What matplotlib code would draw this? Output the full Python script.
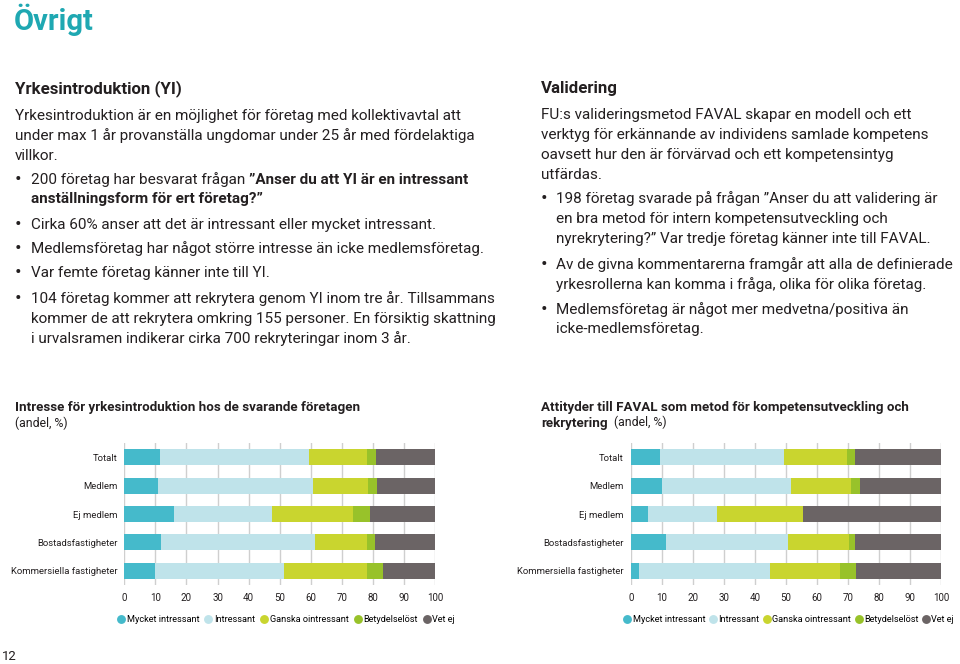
import numpy as np
import matplotlib
matplotlib.use("Agg")
import matplotlib.pyplot as plt
from matplotlib.lines import Line2D

plt.rcParams['font.family'] = ['Roboto', 'DejaVu Sans']

# ---------------- data ----------------
categories = ["Totalt", "Medlem", "Ej medlem", "Bostadsfastigheter", "Kommersiella fastigheter"]
series_names = ["Mycket intressant", "Intressant", "Ganska ointressant", "Betydelselöst", "Vet ej"]
series_colors = ["#45BACB", "#BFE3EA", "#C9D52F", "#98C22A", "#6B6465"]

# Chart 1: Intresse för yrkesintroduktion
yi_mycket = [11.4, 10.8, 15.9, 11.8, 9.9]
yi_intressant = [48.0, 49.8, 31.5, 49.7, 41.4]
yi_ganska = [18.6, 17.8, 26.3, 16.5, 26.9]
yi_betydelselost = [3.0, 2.9, 5.4, 2.6, 5.0]
yi_vetej = [19.0, 18.7, 20.9, 19.4, 16.8]

# Chart 2: Attityder till FAVAL
fa_mycket = [9.6, 10.1, 5.6, 11.4, 2.6]
fa_intressant = [39.8, 41.5, 22.2, 39.3, 42.4]
fa_ganska = [20.3, 19.5, 27.7, 19.5, 22.5]
fa_betydelselost = [2.6, 2.8, 0.0, 2.1, 5.1]
fa_vetej = [27.7, 26.1, 44.5, 27.7, 27.4]

xticks = [0, 10, 20, 30, 40, 50, 60, 70, 80, 90, 100]

TEXT = "#231F20"
TEAL = "#1FA8B2"

W, H = 960, 664
fig = plt.figure(figsize=(W / 100, H / 100), dpi=100)
fig.patch.set_facecolor("white")

bg = fig.add_axes([0, 0, 1, 1])
bg.set_xlim(0, W)
bg.set_ylim(H, 0)
bg.axis("off")


def put(x, y, s, size=10.9, weight="normal", color=TEXT, va="center"):
    return bg.text(x, y, s, fontsize=size, fontweight=weight, color=color,
                   ha="left", va=va)


def put_after(prev, s, size=10.9, weight="normal", color=TEXT):
    return bg.annotate(s, xy=(1, 0), xycoords=prev, ha="left", va="bottom",
                       fontsize=size, fontweight=weight, color=color,
                       annotation_clip=False)


# Title
put(14, 20, "Övrigt", size=21, weight="bold", color=TEAL)

BS = 11.0
HS = 12.2
# Left column
put(15, 89, "Yrkesintroduktion (YI)", size=HS, weight="bold")
put(15, 116, "Yrkesintroduktion är en möjlighet för företag med kollektivavtal att", size=BS)
put(15, 136, "under max 1 år provanställa ungdomar under 25 år med fördelaktiga", size=BS)
put(15, 156, "villkor.", size=BS)

BX, TX = 15, 31


def bullet(x, y):
    put(x, y, "•", size=14)


bullet(BX, 180)
t = put(TX, 180, "200 företag har besvarat frågan ", size=BS)
put_after(t, "”Anser du att YI är en intressant", size=BS, weight="bold")
put(TX, 199, "anställningsform för ert företag?”", size=BS, weight="bold")
bullet(BX, 225)
put(TX, 225, "Cirka 60% anser att det är intressant eller mycket intressant.", size=BS)
bullet(BX, 249)
put(TX, 249, "Medlemsföretag har något större intresse än icke medlemsföretag.", size=BS)
bullet(BX, 273)
put(TX, 273, "Var femte företag känner inte till YI.", size=BS)
bullet(BX, 299)
put(TX, 299, "104 företag kommer att rekrytera genom YI inom tre år. Tillsammans", size=BS)
put(TX, 319, "kommer de att rekrytera omkring 155 personer. En försiktig skattning", size=BS)
put(TX, 339, "i urvalsramen indikerar cirka 700 rekryteringar inom 3 år.", size=BS)

# Right column
RX, RBX, RTX = 541, 541, 556
put(RX, 89, "Validering", size=HS, weight="bold")
put(RX, 115, "FU:s valideringsmetod FAVAL skapar en modell och ett", size=BS)
put(RX, 135, "verktyg för erkännande av individens samlade kompetens", size=BS)
put(RX, 155, "oavsett hur den är förvärvad och ett kompetensintyg", size=BS)
put(RX, 175, "utfärdas.", size=BS)
bullet(RBX, 199)
put(RTX, 199, "198 företag svarade på frågan ”Anser du att validering är", size=BS)
put(RTX, 219, "en bra metod för intern kompetensutveckling och", size=BS)
put(RTX, 239, "nyrekrytering?” Var tredje företag känner inte till FAVAL.", size=BS)
bullet(RBX, 265)
put(RTX, 265, "Av de givna kommentarerna framgår att alla de definierade", size=BS)
put(RTX, 285, "yrkesrollerna kan komma i fråga, olika för olika företag.", size=BS)
bullet(RBX, 310)
put(RTX, 310, "Medlemsföretag är något mer medvetna/positiva än", size=BS)
put(RTX, 329, "icke-medlemsföretag.", size=BS)

# Chart titles
CS = 9.6
put(15, 408, "Intresse för yrkesintroduktion hos de svarande företagen", size=CS, weight="bold")
put(15, 423, "(andel, %)", size=CS - 0.8)
put(541, 408, "Attityder till FAVAL som metod för kompetensutveckling och", size=CS, weight="bold")
t2 = put(541, 423, "rekrytering", size=CS, weight="bold")
put_after(t2, "  (andel, %)", size=CS - 0.8)

# page number
put(2, 657, "12", size=9.5, color=TEXT)


def stacked_chart(left_px, right_px, series, colspace):
    top_px, bot_px = 443, 585
    ax = fig.add_axes([left_px / W, 1 - bot_px / H, (right_px - left_px) / W, (bot_px - top_px) / H])
    y = np.arange(len(categories))
    left = np.zeros(len(categories))
    for vals, col in zip(series, series_colors):
        v = np.array(vals)
        ax.barh(y, v, left=left, height=0.57, color=col, edgecolor="none", zorder=3)
        left += v
    ax.set_xlim(0, 100)
    ax.set_ylim(len(categories) - 0.5, -0.5)
    ax.set_yticks(y)
    ax.set_yticklabels(categories, fontsize=6.8, color=TEXT)
    ax.set_xticks(xticks)
    ax.set_xticklabels([str(v) for v in xticks], fontsize=7.0, color=TEXT)
    ax.tick_params(axis="both", length=0)
    ax.tick_params(axis="x", pad=6)
    ax.tick_params(axis="y", pad=5)
    ax.xaxis.grid(True, color="#CFCFCF", linewidth=1.0, zorder=0)
    ax.set_axisbelow(True)
    for s in ax.spines.values():
        s.set_visible(False)
    handles = [Line2D([], [], marker="o", linestyle="none", markersize=6.4,
                      markerfacecolor=c, markeredgecolor="none") for c in series_colors]
    fig.legend(handles, series_names, loc="center left",
               bbox_to_anchor=((left_px - 6) / W, 1 - 620 / H), ncol=5, frameon=False,
               fontsize=6.6, handlelength=0.6, handletextpad=0.3, columnspacing=colspace,
               borderpad=0, borderaxespad=0)
    return ax


stacked_chart(124.3, 435, [yi_mycket, yi_intressant, yi_ganska, yi_betydelselost, yi_vetej], 0.7)
stacked_chart(630.7, 941, [fa_mycket, fa_intressant, fa_ganska, fa_betydelselost, fa_vetej], 0.5)

fig.savefig("out.png", dpi=100)
